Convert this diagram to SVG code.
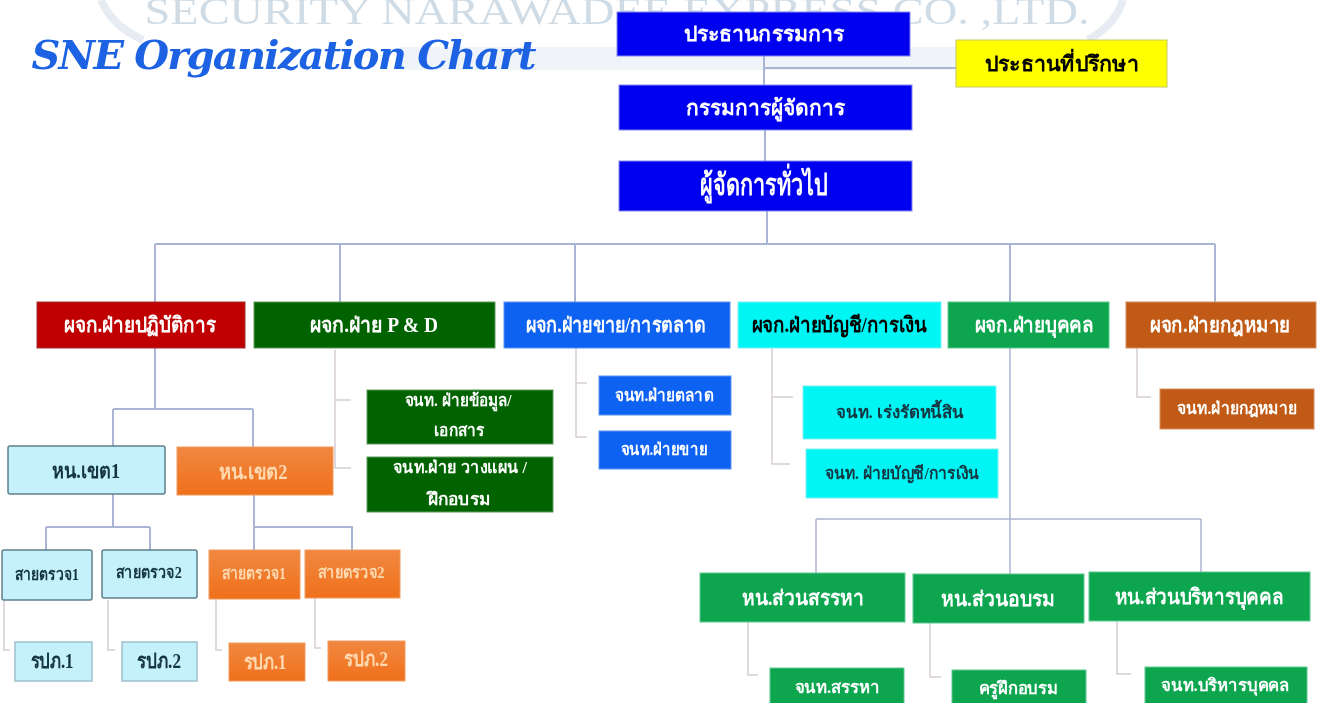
<svg xmlns="http://www.w3.org/2000/svg" width="1320" height="703" viewBox="0 0 1320 703">
<style>
text{font-family:"Liberation Serif","Noto Sans",serif;text-anchor:middle;font-weight:700}
.w{fill:#fff}.k{fill:#000}.t{fill:#12343f}.o{fill:#ffd9b0}
.xl{font-size:30px}.l{font-size:24px}.m{font-size:21px}.s{font-size:17px}
.line{fill:none;stroke:#aab4d4;stroke-width:2}
.pale{fill:none;stroke:#d6cdd2;stroke-width:1.5}
.navy{fill:#0000f0;stroke:#8888f0}.red{fill:#c00000;stroke:#a03030}.dg{fill:#006400;stroke:#5a9a5a}
.blue{fill:#0f62f2;stroke:#5b92f0}.cy{fill:#00f5f5;stroke:#80f0f0}.gr{fill:#0aa650;stroke:#60c890}
.br{fill:#c05a14;stroke:#d89060}.lb{fill:#c4f1fb;stroke:#5f7f8a;stroke-width:1.5}.or{fill:url(#org);stroke:#f09a60}
.ye{fill:#ffff00;stroke:#c8c860}
.title{font-family:"DejaVu Serif",serif;font-style:italic;font-size:40px;fill:#1b62e2}
.mark{font-size:37px;font-weight:400;fill:#cfdce6}
</style>
<defs>
<linearGradient id="org" x1="0" y1="0" x2="0" y2="1"><stop offset="0" stop-color="#f08840"/><stop offset="1" stop-color="#f0701c"/></linearGradient>
<linearGradient id="band" x1="0" y1="0" x2="0" y2="1"><stop offset="0" stop-color="#f1f2fa"/><stop offset="1" stop-color="#eef5f8"/></linearGradient>
<filter id="soft" x="0" y="0" width="1320" height="703" filterUnits="userSpaceOnUse"><feGaussianBlur stdDeviation="0.5"/></filter>
</defs>
<g filter="url(#soft)">
<g id="background">
<rect x="400" y="47" width="560" height="23" fill="url(#band)"/>
<path d="M101 0Q112 26 143 40M1123 0Q1116 24 1088 40" fill="none" stroke="#e6ecf2" stroke-width="8"/>
<text class="mark" x="617" y="24" textLength="945" lengthAdjust="spacingAndGlyphs">SECURITY NARAWADEE EXPRESS CO. ,LTD.</text>
<text class="title" x="284" y="69" textLength="505" lengthAdjust="spacing">SNE Organization Chart</text>
</g>
<g id="connectors">
<path class="line" d="M764 56V85M764 68H956M765 130V161M767 211V244M155 244H1215M155 244V302M340 244V302M575 244V302M1010 244V302M1215 244V302"/>
<path class="line" d="M155 348V409M113 409H253M113 409V446M253 409V447M113 494V527M46 527H150M46 527V550M150 527V550M254 495V527H352V550M254 527V550"/>
<path class="line" d="M1010 348V574M816 519H1201M816 519V573M1201 519V572" style="stroke-width:1.5"/>
<path class="pale" d="M335 350V468H351M335 400H351M576 348V437H587M576 383H587M772 348V464H790M772 397H793M1137 348V397H1151"/>
<path class="pale" d="M4 600V650H10M108 600V650H115M216 599V650H222M315 598V648H321M748 622V675H758M930 623V677H941M1117 621V674H1131"/>
</g>
<g id="n-chairman"><rect class="navy" x="617" y="12" width="293" height="44"/><text class="w m" x="764" y="41" textLength="161" lengthAdjust="spacingAndGlyphs">ประธานกรรมการ</text></g>
<g id="n-advisor"><rect class="ye" x="956" y="40" width="211" height="47"/><text class="k m" x="1062" y="71" textLength="154" lengthAdjust="spacingAndGlyphs">ประธานที่ปรึกษา</text></g>
<g id="n-md"><rect class="navy" x="619" y="85" width="293" height="45"/><text class="w m" x="765" y="115" textLength="159" lengthAdjust="spacingAndGlyphs">กรรมการผู้จัดการ</text></g>
<g id="n-gm"><rect class="navy" x="619" y="161" width="293" height="50"/><text class="w xl" x="764" y="195" textLength="128" lengthAdjust="spacingAndGlyphs">ผู้จัดการทั่วไป</text></g>
<g id="n-ops"><rect class="red" x="37" y="302" width="208" height="46"/><text class="w m" x="140" y="332" textLength="152" lengthAdjust="spacingAndGlyphs">ผจก.ฝ่ายปฏิบัติการ</text></g>
<g id="n-pd"><rect class="dg" x="254" y="302" width="241" height="46"/><text class="w m" x="374" y="332" textLength="128" lengthAdjust="spacingAndGlyphs">ผจก.ฝ่าย P &amp; D</text></g>
<g id="n-sales"><rect class="blue" x="504" y="302" width="226" height="46"/><text class="w m" x="616" y="332" textLength="181" lengthAdjust="spacingAndGlyphs">ผจก.ฝ่ายขาย/การตลาด</text></g>
<g id="n-fin"><rect class="cy" x="738" y="302" width="203" height="46"/><text class="k m" x="839" y="332" textLength="175" lengthAdjust="spacingAndGlyphs">ผจก.ฝ่ายบัญชี/การเงิน</text></g>
<g id="n-hr"><rect class="gr" x="948" y="302" width="161" height="46"/><text class="w m" x="1034" y="332" textLength="119" lengthAdjust="spacingAndGlyphs">ผจก.ฝ่ายบุคคล</text></g>
<g id="n-legal"><rect class="br" x="1126" y="302" width="190" height="46"/><text class="w m" x="1220" y="332" textLength="140" lengthAdjust="spacingAndGlyphs">ผจก.ฝ่ายกฎหมาย</text></g>
<g id="n-pd1"><rect class="dg" x="367" y="390" width="186" height="54"/><text class="w s" x="458" y="406" textLength="107" lengthAdjust="spacingAndGlyphs">จนท. ฝ่ายข้อมูล/</text><text class="w s" x="459" y="436" textLength="50" lengthAdjust="spacingAndGlyphs">เอกสาร</text></g>
<g id="n-pd2"><rect class="dg" x="367" y="457" width="186" height="55"/><text class="w s" x="460" y="473" textLength="134" lengthAdjust="spacingAndGlyphs">จนท.ฝ่าย วางแผน /</text><text class="w s" x="459" y="505" textLength="62" lengthAdjust="spacingAndGlyphs">ฝึกอบรม</text></g>
<g id="n-s1"><rect class="blue" x="599" y="376" width="132" height="39"/><text class="w s" x="664" y="401" textLength="99" lengthAdjust="spacingAndGlyphs">จนท.ฝ่ายตลาด</text></g>
<g id="n-s2"><rect class="blue" x="599" y="431" width="132" height="38"/><text class="w s" x="664" y="455" textLength="87" lengthAdjust="spacingAndGlyphs">จนท.ฝ่ายขาย</text></g>
<g id="n-f1"><rect class="cy" x="803" y="386" width="193" height="53"/><text class="t s" x="900" y="418" textLength="128" lengthAdjust="spacingAndGlyphs">จนท. เร่งรัดหนี้สิน</text></g>
<g id="n-f2"><rect class="cy" x="806" y="449" width="192" height="49"/><text class="t s" x="902" y="479" textLength="155" lengthAdjust="spacingAndGlyphs">จนท. ฝ่ายบัญชี/การเงิน</text></g>
<g id="n-l1"><rect class="br" x="1160" y="389" width="154" height="40"/><text class="w s" x="1237" y="414" textLength="120" lengthAdjust="spacingAndGlyphs">จนท.ฝ่ายกฎหมาย</text></g>
<g id="n-z1"><rect class="lb" x="8" y="446" width="157" height="48" rx="2"/><text class="t m" x="86" y="478" textLength="68" lengthAdjust="spacingAndGlyphs">หน.เขต1</text></g>
<g id="n-z2"><rect class="or" x="177" y="447" width="156" height="48"/><text class="o m" x="253" y="479" textLength="69" lengthAdjust="spacingAndGlyphs">หน.เขต2</text></g>
<g id="n-p1"><rect class="lb" x="2" y="550" width="90" height="50" rx="2"/><text class="t s" x="47" y="580" textLength="64" lengthAdjust="spacingAndGlyphs">สายตรวจ1</text></g>
<g id="n-p2"><rect class="lb" x="102" y="550" width="95" height="48" rx="2"/><text class="t s" x="149" y="578" textLength="66" lengthAdjust="spacingAndGlyphs">สายตรวจ2</text></g>
<g id="n-p3"><rect class="or" x="209" y="550" width="91" height="49"/><text class="o s" x="254" y="579" textLength="64" lengthAdjust="spacingAndGlyphs">สายตรวจ1</text></g>
<g id="n-p4"><rect class="or" x="305" y="550" width="95" height="48"/><text class="o s" x="351" y="578" textLength="67" lengthAdjust="spacingAndGlyphs">สายตรวจ2</text></g>
<g id="n-g1"><rect class="lb" x="15" y="642" width="77" height="39" style="stroke:#9fc0cc"/><text class="t m" x="52" y="668" textLength="43" lengthAdjust="spacingAndGlyphs">รปภ.1</text></g>
<g id="n-g2"><rect class="lb" x="122" y="642" width="75" height="39" style="stroke:#9fc0cc"/><text class="t m" x="159" y="668" textLength="44" lengthAdjust="spacingAndGlyphs">รปภ.2</text></g>
<g id="n-g3"><rect class="or" x="229" y="643" width="76" height="38"/><text class="o m" x="265" y="669" textLength="43" lengthAdjust="spacingAndGlyphs">รปภ.1</text></g>
<g id="n-g4"><rect class="or" x="328" y="641" width="77" height="40"/><text class="o m" x="366" y="666" textLength="44" lengthAdjust="spacingAndGlyphs">รปภ.2</text></g>
<g id="n-h1"><rect class="gr" x="700" y="573" width="205" height="49"/><text class="w m" x="803" y="605" textLength="122" lengthAdjust="spacingAndGlyphs">หน.ส่วนสรรหา</text></g>
<g id="n-h2"><rect class="gr" x="913" y="574" width="171" height="49"/><text class="w m" x="998" y="606" textLength="114" lengthAdjust="spacingAndGlyphs">หน.ส่วนอบรม</text></g>
<g id="n-h3"><rect class="gr" x="1089" y="572" width="221" height="49"/><text class="w m" x="1199" y="604" textLength="169" lengthAdjust="spacingAndGlyphs">หน.ส่วนบริหารบุคคล</text></g>
<g id="n-h4"><rect class="gr" x="770" y="668" width="134" height="36"/><text class="w s" x="837" y="693" textLength="85" lengthAdjust="spacingAndGlyphs">จนท.สรรหา</text></g>
<g id="n-h5"><rect class="gr" x="952" y="670" width="134" height="34"/><text class="w s" x="1018" y="694" textLength="79" lengthAdjust="spacingAndGlyphs">ครูฝึกอบรม</text></g>
<g id="n-h6"><rect class="gr" x="1145" y="667" width="162" height="37"/><text class="w s" x="1225" y="691" textLength="128" lengthAdjust="spacingAndGlyphs">จนท.บริหารบุคคล</text></g>
</g>
</svg>
